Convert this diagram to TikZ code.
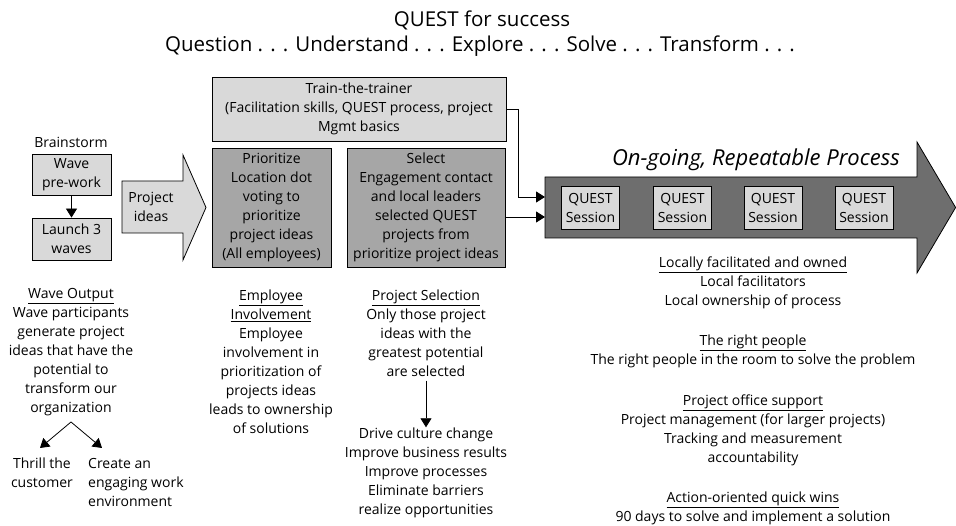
\documentclass[tikz,border=0pt]{standalone}
\usepackage{fontspec}
\setmainfont{Open Sans}
\usetikzlibrary{arrows.meta}
\begin{document}
\begin{tikzpicture}[x=1pt, y=-1pt,
    txt/.style={font=\fontsize{14}{19}\selectfont, align=center, inner sep=0pt},
    head/.style={txt, font=\fontsize{20.5}{24}\selectfont},
    lightbox/.style={txt, draw, line width=0.8pt, fill=black!15},
    darkbox/.style={txt, draw, line width=0.8pt, fill=black!35},
    session/.style={lightbox, minimum width=58, minimum height=43},
    tip/.style={-{Triangle[length=9pt,width=11pt]}, line width=0.8pt}]
  \useasboundingbox (0,0) rectangle (956,526);
  % title
  \node[head] (title) at (482,20) {QUEST for success};
  \node[head] (motto) at (480,46) {Question . . . Understand . . . Explore . . . Solve . . . Transform . . .};
  % brainstorm
  \node[txt] (brainlbl) at (71,142) {Brainstorm};
  \node[lightbox, minimum width=79, minimum height=41] (wave) at (71.5,174.5) {Wave\\pre-work};
  \node[lightbox, minimum width=79, minimum height=42] (launch) at (71.5,239) {Launch 3\\waves};
  \draw[tip] (wave) -- (launch);
  % project ideas arrow
  \draw[line width=0.8pt, fill=black!15]
    (122,181) -- (183,181) -- (183,155) -- (206,207.5) -- (183,260) -- (183,233) -- (122,233) -- cycle;
  \node[txt] (ideas) at (151,207) {Project\\ideas};
  % train, prioritize, select
  \node[lightbox, minimum width=294, minimum height=64] (train) at (359,109)
    {Train-the-trainer\\(Facilitation skills, QUEST process, project\\Mgmt basics};
  \node[darkbox, minimum width=119, minimum height=119] (prio) at (271.5,207.5)
    {Prioritize\\Location dot\\voting to\\prioritize\\project ideas\\(All employees)};
  \node[darkbox, minimum width=158, minimum height=119] (select) at (426,207.5)
    {Select\\Engagement contact\\and local leaders\\selected QUEST\\projects from\\prioritize project ideas};
  % on-going process arrow
  \draw[line width=0.8pt, fill=black!57]
    (545,177) -- (917,177) -- (917,142) -- (955.6,207.5) -- (917,273) -- (917,238) -- (545,238) -- cycle;
  \coordinate (inA) at (545,197);
  \coordinate (inB) at (545,217);
  \node[head, font=\fontsize{22}{24}\selectfont\itshape, anchor=east] (process) at (900,160) {On-going, Repeatable Process};
  \node[session] (s1) at (590.5,207.5) {QUEST\\Session};
  \node[session] (s2) at (682.5,207.5) {QUEST\\Session};
  \node[session] (s3) at (773,207.5) {QUEST\\Session};
  \node[session] (s4) at (864,207.5) {QUEST\\Session};
  \draw[tip] (train.east) -- ++(12,0) |- (inA);
  \draw[tip] (select.east |- inB) -- (inB);
  % wave output
  \node[txt] (output) at (71,352) {\underline{Wave Output}\\Wave participants\\generate project\\ideas that have the\\potential to\\transform our\\organization};
  \coordinate (fork) at (71,422);
  \coordinate (forkL) at (40,448);
  \coordinate (forkR) at (102,448);
  \draw[tip] (fork) -- (forkL);
  \draw[tip] (fork) -- (forkR);
  \node[txt] (thrill) at (42,472.5) {Thrill the\\customer};
  \node[txt, align=left, anchor=west] (create) at (88,482) {Create an\\engaging work\\environment};
  % employee involvement
  \node[txt] (involve) at (271,361.5) {\underline{Employee}\\\underline{Involvement}\\Employee\\involvement in\\prioritization of\\projects ideas\\leads to ownership\\of solutions};
  % project selection
  \node[txt] (selection) at (426,333) {\underline{Project Selection}\\Only those project\\ideas with the\\greatest potential\\are selected};
  \node[txt] (results) at (426,472.5) {Drive culture change\\Improve business results\\Improve processes\\Eliminate barriers\\realize opportunities};
  \draw[tip] (selection.south) ++(0,4) coordinate (selfoot) -- (results.north);
  % right column
  \node[txt] (owned) at (753,282.5) {\underline{Locally facilitated and owned}\\Local facilitators\\Local ownership of process};
  \node[txt] (people) at (753,351.5) {\underline{The right people}\\The right people in the room to solve the problem};
  \node[txt] (office) at (753,430) {\underline{Project office support}\\Project management (for larger projects)\\Tracking and measurement\\accountability};
  \node[txt] (wins) at (753,508) {\underline{Action-oriented quick wins}\\90 days to solve and implement a solution};
\end{tikzpicture}
\end{document}
